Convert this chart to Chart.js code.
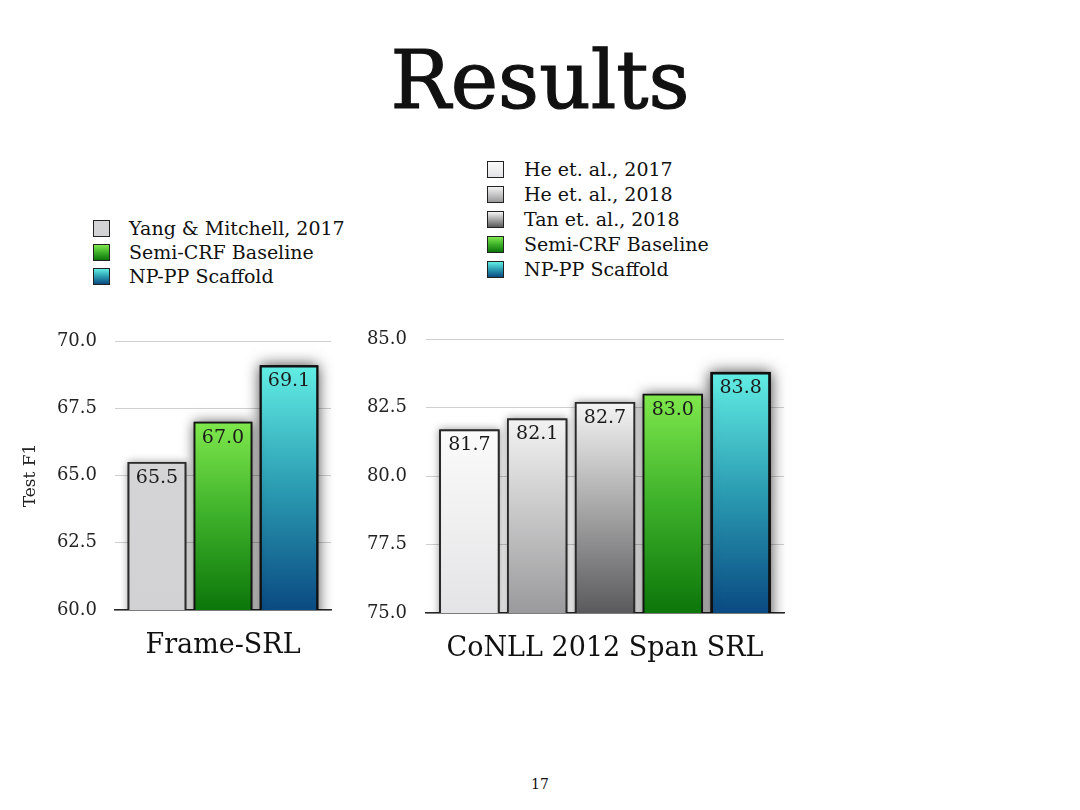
<!DOCTYPE html>
<html>
<head>
<meta charset="utf-8">
<script src="https://cdn.jsdelivr.net/npm/chart.js@4/dist/chart.umd.min.js"></script>
<style>
  html, body { margin: 0; padding: 0; }
  body {
    width: 1080px; height: 810px; position: relative; overflow: hidden;
    background: #ffffff;
    font-family: "DejaVu Serif", serif; color: #111;
  }
  #title { position: absolute; left: 0; width: 1080px; top: 31px; text-align: center;
    font-size: 80px; line-height: 100px; -webkit-text-stroke: 1.2px #111; }
  .legend { position: absolute; font-size: 19px; }
  .legend .row { position: relative; white-space: nowrap; }
  .legend .sw { position: absolute; width: 17px; height: 17px; box-sizing: border-box;
    border: 1.5px solid #222; }
  #pagenum { position: absolute; left: 0; width: 1080px; top: 776px; text-align: center; font-size: 14px; }
  canvas { position: absolute; }
</style>
</head>
<body>
<div id="title">Results</div>
<div id="legend1" class="legend" style="left:93px; top:216px;"></div>
<div id="legend2" class="legend" style="left:487px; top:157px;"></div>
<canvas id="c1" width="330" height="380" style="left:10px; top:300px;"></canvas>
<canvas id="c2" width="450" height="380" style="left:350px; top:300px;"></canvas>
<div id="pagenum">17</div>
<script>
// ---- data ----
const frameCategories = ['Frame-SRL'];
const frameSeries = ['Yang & Mitchell, 2017', 'Semi-CRF Baseline', 'NP-PP Scaffold'];
const frameValues = [65.5, 67.0, 69.1];
const frameTicks = [60.0, 62.5, 65.0, 67.5, 70.0];

const conllCategories = ['CoNLL 2012 Span SRL'];
const conllSeries = ['He et. al., 2017', 'He et. al., 2018', 'Tan et. al., 2018', 'Semi-CRF Baseline', 'NP-PP Scaffold'];
const conllValues = [81.7, 82.1, 82.7, 83.0, 83.8];
const conllTicks = [75.0, 77.5, 80.0, 82.5, 85.0];

const yAxisTitle = 'Test F1';

// ---- styles ----
const GRAD = {
  'gray':   [['0', '#d4d4d6'], ['1', '#d2d2d4']],
  'green':  [['0', '#7fe84c'], ['0.5', '#3db02a'], ['1', '#0c760a']],
  'cyan':   [['0', '#62eee4'], ['0.5', '#2b9cb2'], ['1', '#0a4a82']],
  'white1': [['0', '#fbfbfb'], ['1', '#e4e4e6']],
  'white2': [['0', '#f3f3f3'], ['1', '#9a9a9c']],
  'white3': [['0', '#f5f5f5'], ['1', '#5a5a5c']]
};
const frameStyles = [
  { g: 'gray', shadow: 8, alpha: 0.4, border: '#2a2a2a', bw: 1.8 },
  { g: 'green', shadow: 12, alpha: 0.65, border: '#151515', bw: 1.8 },
  { g: 'cyan', shadow: 14, alpha: 0.75, border: '#111', bw: 2.2 }
];
const conllStyles = [
  { g: 'white1', shadow: 8, alpha: 0.4, border: '#2a2a2a', bw: 1.8 },
  { g: 'white2', shadow: 8, alpha: 0.4, border: '#2a2a2a', bw: 1.8 },
  { g: 'white3', shadow: 8, alpha: 0.45, border: '#2a2a2a', bw: 1.8 },
  { g: 'green', shadow: 12, alpha: 0.65, border: '#151515', bw: 1.8 },
  { g: 'cyan', shadow: 14, alpha: 0.75, border: '#111', bw: 2.6 }
];

function cssGrad(name) {
  return 'linear-gradient(to bottom, ' + GRAD[name].map(s => s[1] + ' ' + (parseFloat(s[0]) * 100) + '%').join(', ') + ')';
}
function buildLegend(id, series, styles, rowH, textX) {
  const el = document.getElementById(id);
  series.forEach((s, i) => {
    const row = document.createElement('div');
    row.className = 'row';
    row.style.height = rowH + 'px';
    row.style.lineHeight = rowH + 'px';
    row.style.paddingLeft = textX + 'px';
    const sw = document.createElement('span');
    sw.className = 'sw';
    sw.style.left = '0px';
    sw.style.top = ((rowH - 17) / 2) + 'px';
    sw.style.background = cssGrad(styles[i].g);
    row.appendChild(sw);
    row.appendChild(document.createTextNode(s));
    el.appendChild(row);
  });
}
buildLegend('legend1', frameSeries, frameStyles, 24, 36);
buildLegend('legend2', conllSeries, conllStyles, 25, 37);

function barGradient(name) {
  return function (ctx) {
    const chart = ctx.chart;
    const area = chart.chartArea;
    if (!area || ctx.type !== 'data') return GRAD[name][0][1];
    const ys = chart.scales.y;
    const top = ys.getPixelForValue(ctx.raw);
    const g = chart.ctx.createLinearGradient(0, top, 0, area.bottom);
    GRAD[name].forEach(s => g.addColorStop(parseFloat(s[0]), s[1]));
    return g;
  };
}

const shadowPlugin = {
  id: 'barShadow',
  beforeDatasetDraw(chart, args) {
    const st = chart.options.plugins.barShadow.styles[args.index];
    const ctx = chart.ctx;
    const area = chart.chartArea;
    const meta = chart.getDatasetMeta(args.index);
    ctx.save();
    ctx.beginPath();
    ctx.rect(area.left - 20, area.top - 30, area.right - area.left + 40, area.bottom - area.top + 30);
    ctx.clip();
    meta.data.forEach(bar => {
      const p = bar.getProps(['x', 'y', 'base', 'width'], true);
      ctx.save();
      ctx.shadowColor = 'rgba(0,0,0,' + st.alpha + ')';
      ctx.shadowBlur = st.shadow;
      ctx.fillStyle = '#000';
      ctx.fillRect(p.x - p.width / 2, p.y, p.width, p.base - p.y);
      ctx.restore();
    });
    ctx.restore();
  },
  afterDatasetsDraw(chart) {
    const ctx = chart.ctx;
    ctx.save();
    ctx.font = '19px "DejaVu Serif", serif';
    ctx.fillStyle = '#1a1a1a';
    ctx.textAlign = 'center';
    ctx.textBaseline = 'middle';
    chart.data.datasets.forEach((ds, i) => {
      const meta = chart.getDatasetMeta(i);
      meta.data.forEach((bar, j) => {
        ctx.fillText(Number(ds.data[j]).toFixed(1), bar.x, bar.y + 16);
      });
    });
    ctx.restore();
  }
};

function makeChart(canvasId, categories, series, values, ticks, styles, cfg) {
  const datasets = series.map((s, i) => ({
    label: s,
    data: [values[i]],
    backgroundColor: barGradient(styles[i].g),
    borderColor: styles[i].border,
    borderWidth: styles[i].bw,
    borderSkipped: false,
    categoryPercentage: cfg.cat,
    barPercentage: cfg.bar
  }));
  return new Chart(document.getElementById(canvasId), {
    type: 'bar',
    data: { labels: categories, datasets },
    plugins: [shadowPlugin],
    options: {
      responsive: false,
      animation: false,
      layout: { padding: cfg.padding },
      plugins: {
        legend: { display: false },
        tooltip: { enabled: false },
        barShadow: { styles }
      },
      scales: {
        x: {
          grid: { display: false, drawTicks: false },
          border: { display: true, color: '#2a2a2a', width: 1.5 },
          ticks: { color: '#111', padding: cfg.xPad, font: { family: '"DejaVu Serif", serif', size: 27 } },
          afterFit(scale) { scale.height = cfg.xHeight; scale.paddingLeft = 0; scale.paddingRight = 0; }
        },
        y: {
          min: ticks[0], max: ticks[ticks.length - 1],
          afterBuildTicks(scale) { scale.ticks = ticks.map(v => ({ value: v })); },
          grid: { color: '#cfcfcf', lineWidth: 1, drawTicks: false },
          border: { display: false },
          ticks: {
            color: '#222', padding: cfg.yPad,
            font: { family: '"DejaVu Serif", serif', size: 18 },
            callback: v => Number(v).toFixed(1)
          },
          title: cfg.yTitle ? {
            display: true, text: cfg.yTitle, color: '#222',
            font: { family: '"DejaVu Serif", serif', size: 17 },
            padding: { top: 10, bottom: 0 }
          } : { display: false },
          afterFit(scale) { scale.width = cfg.yWidth; scale.paddingTop = 0; scale.paddingBottom = 0; }
        }
      }
    }
  });
}

makeChart('c1', frameCategories, frameSeries, frameValues, frameTicks, frameStyles, {
  cat: 0.917, bar: 0.89, padding: { top: 41, right: 9, left: 0, bottom: 0 },
  xPad: 20, xHeight: 70, yPad: 18, yWidth: 105, yTitle: yAxisTitle
});
makeChart('c2', conllCategories, conllSeries, conllValues, conllTicks, conllStyles, {
  cat: 0.947, bar: 0.89, padding: { top: 39, right: 16, left: 0, bottom: 0 },
  xPad: 20, xHeight: 67, yPad: 19, yWidth: 76, yTitle: null
});
</script>
</body>
</html>
